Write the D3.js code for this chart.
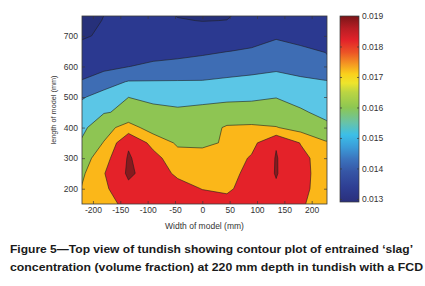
<!DOCTYPE html>
<html>
<head>
<meta charset="utf-8">
<script src="https://cdn.jsdelivr.net/npm/d3@7"></script>
<style>
  body { margin: 0; background: #fff; }
  text { font-family: "Liberation Sans", Arial, sans-serif; }
</style>
</head>
<body>
<svg id="chart" width="425" height="286"></svg>
<script>
// grid positions across the tundish (mm)
const xGrid = [-225, -180, -135, -90, -45, 0, 45, 90, 135, 180, 225];
const yGrid = [150, 200, 250, 300, 350, 400, 450, 500, 550, 600, 650, 700, 750, 800];

// slag volume fraction, one row per yGrid value, one column per xGrid value
const slag = [
  [0.0174, 0.0176, 0.0183, 0.0186, 0.0186, 0.0185, 0.0183, 0.0184, 0.0184, 0.01815, 0.0174],
  [0.01695, 0.0178, 0.0188, 0.0186, 0.0184, 0.01797, 0.01785, 0.0184, 0.0189, 0.0183, 0.0175],
  [0.0167, 0.01795, 0.01915, 0.0186, 0.0178, 0.0176, 0.0176, 0.01835, 0.01905, 0.01835, 0.0175],
  [0.0164, 0.0176, 0.0191, 0.01835, 0.0174, 0.0173, 0.0175, 0.0181, 0.01905, 0.0183, 0.0175],
  [0.01601, 0.01705, 0.01889, 0.0177, 0.01685, 0.01685, 0.01708, 0.0177, 0.01895, 0.01795, 0.0171],
  [0.0157, 0.0166, 0.01745, 0.0165, 0.0165, 0.0166, 0.0171, 0.01715, 0.01705, 0.0166, 0.0163],
  [0.0153, 0.01595, 0.01613, 0.0163, 0.01615, 0.0162, 0.0164, 0.0164, 0.0163, 0.01615, 0.0157],
  [0.01488, 0.0153, 0.015997, 0.01575, 0.0157, 0.0158, 0.0158, 0.01585, 0.01598, 0.0156, 0.01525],
  [0.01402, 0.01465, 0.01505, 0.01505, 0.01505, 0.01505, 0.01515, 0.0152, 0.0153, 0.01515, 0.01505],
  [0.0137, 0.0137, 0.01398, 0.01425, 0.0144, 0.0145, 0.0146, 0.01475, 0.01485, 0.0147, 0.0145],
  [0.0134, 0.0134, 0.0136, 0.0135, 0.0136, 0.0138, 0.01398, 0.0141, 0.0145, 0.0142, 0.01395],
  [0.0128, 0.0132, 0.0134, 0.0134, 0.0134, 0.0134, 0.0135, 0.01365, 0.01385, 0.01365, 0.0136],
  [0.0125, 0.01305, 0.0132, 0.0132, 0.01305, 0.01298, 0.01301, 0.0133, 0.0135, 0.0134, 0.0134],
  [0.0123, 0.0129, 0.0131, 0.0131, 0.0128, 0.0128, 0.0128, 0.0131, 0.0133, 0.0132, 0.0132]
];

// contour levels and the fill of the band above each one
const levels = [0.012, 0.013, 0.014, 0.015, 0.016, 0.017, 0.018, 0.019];
const levelColours = ["#26307a", "#2b3990", "#3e6db4", "#5bc6e6", "#8ec553", "#fbb719", "#e42229", "#861a1e"];

const xTicks = [-200, -150, -100, -50, 0, 50, 100, 150, 200];
const yTicks = [200, 300, 400, 500, 600, 700];
const barTicks = [0.013, 0.014, 0.015, 0.016, 0.017, 0.018, 0.019];

// colour bar gradient (value, colour)
const barStops = [
  [0.019, "#7a1518"], [0.0186, "#b71d24"], [0.0182, "#e3232a"], [0.0178, "#ec5526"],
  [0.0174, "#f59c22"], [0.0171, "#fad01c"], [0.0168, "#eee52c"], [0.0165, "#bbd543"],
  [0.016, "#8dc752"], [0.0155, "#68c3a8"], [0.0151, "#3cbfe8"], [0.0147, "#3b9cd8"],
  [0.0143, "#3b73bd"], [0.0139, "#3656a6"], [0.0134, "#2e3f94"], [0.0129, "#2a2f7c"]
];

const captionLines = [
  "Figure 5\u2014Top view of tundish showing contour plot of entrained \u2018slag\u2019",
  "concentration (volume fraction) at 220 mm depth in tundish with a FCD"
];

const MARGIN = {LEFT: 82, RIGHT: 327, TOP: 16, BOTTOM: 204};
const svg = d3.select("#chart");

//** SCALES *****************************************
const xScale = d3.scaleLinear().domain([-220, 228]).range([MARGIN.LEFT, MARGIN.RIGHT]);
const yScale = d3.scaleLinear().domain([150, 765]).range([MARGIN.BOTTOM, MARGIN.TOP]);

// grid index -> mm (d3.contours puts sample i at i + 0.5)
const nx = xGrid.length, ny = yGrid.length;
const gx = d3.scaleLinear().domain([0.5, nx - 0.5]).range([xGrid[0], xGrid[nx - 1]]);
const gy = d3.scaleLinear().domain([0.5, ny - 0.5]).range([yGrid[0], yGrid[ny - 1]]);

const projection = d3.geoTransform({
  point: function(px, py) { this.stream.point(xScale(gx(px)), yScale(gy(py))); }
});
const path = d3.geoPath(projection);

//** CONTOURS *****************************************
svg.append("clipPath").attr("id", "plotClip")
  .append("rect")
  .attr("x", MARGIN.LEFT).attr("y", MARGIN.TOP)
  .attr("width", MARGIN.RIGHT - MARGIN.LEFT).attr("height", MARGIN.BOTTOM - MARGIN.TOP);

const contours = d3.contours()
  .size([nx, ny])
  .thresholds(levels)(slag.flat());

svg.append("g")
  .attr("clip-path", "url(#plotClip)")
  .selectAll("path")
  .data(contours)
  .enter()
  .append("path")
  .attr("d", path)
  .attr("fill", (d, i) => levelColours[i])
  .attr("stroke", (d, i) => i === 0 ? "none" : "#1e1e1e")
  .attr("stroke-width", 0.7)
  .attr("stroke-opacity", 0.85)
  .attr("stroke-linejoin", "round");

//** AXES *****************************************
svg.append("rect")
  .attr("x", MARGIN.LEFT).attr("y", MARGIN.TOP)
  .attr("width", MARGIN.RIGHT - MARGIN.LEFT).attr("height", MARGIN.BOTTOM - MARGIN.TOP)
  .attr("fill", "none").attr("stroke", "#3a3a3a").attr("stroke-width", 0.8);

const plain = d => String(d);
const xAxis = d3.axisBottom(xScale).tickValues(xTicks).tickFormat(plain).tickSize(-3).tickPadding(3);
const yAxis = d3.axisLeft(yScale).tickValues(yTicks).tickFormat(plain).tickSize(-3).tickPadding(4);

function styleAxis(g, showLabels) {
  g.select(".domain").remove();
  g.selectAll(".tick line").attr("stroke", "#3a3a3a").attr("stroke-width", 0.7);
  g.selectAll(".tick text")
    .attr("fill", "#333")
    .style("font-family", "'Liberation Sans', Arial, sans-serif")
    .style("font-size", "8.5px")
    .style("display", showLabels ? null : "none");
}

svg.append("g").attr("transform", "translate(0," + MARGIN.BOTTOM + ")").call(xAxis).call(g => styleAxis(g, true));
svg.append("g").attr("transform", "translate(" + MARGIN.LEFT + ",0)").call(yAxis).call(g => styleAxis(g, true));
svg.append("g").attr("transform", "translate(0," + MARGIN.TOP + ")")
  .call(d3.axisTop(xScale).tickValues(xTicks).tickSize(-3)).call(g => styleAxis(g, false));
svg.append("g").attr("transform", "translate(" + MARGIN.RIGHT + ",0)")
  .call(d3.axisRight(yScale).tickValues(yTicks).tickSize(-3)).call(g => styleAxis(g, false));

svg.append("text")
  .attr("x", (MARGIN.LEFT + MARGIN.RIGHT) / 2)
  .attr("y", 229)
  .attr("text-anchor", "middle")
  .attr("fill", "#333")
  .style("font-size", "8.5px")
  .text("Width of model (mm)");

svg.append("text")
  .attr("transform", "translate(56," + ((MARGIN.TOP + MARGIN.BOTTOM) / 2) + ") rotate(-90)")
  .attr("text-anchor", "middle")
  .attr("fill", "#333")
  .style("font-size", "7.3px")
  .text("length of model (mm)");

//** COLOUR BAR *****************************************
const barX = 340, barW = 19;
const barScale = d3.scaleLinear().domain([0.0129, 0.019]).range([202, 16]);

const grad = svg.append("defs").append("linearGradient")
  .attr("id", "barGrad")
  .attr("x1", 0).attr("y1", 0).attr("x2", 0).attr("y2", 1);
grad.selectAll("stop")
  .data(barStops)
  .enter()
  .append("stop")
  .attr("offset", d => (barScale(d[0]) - barScale(0.019)) / (barScale(0.0129) - barScale(0.019)))
  .attr("stop-color", d => d[1]);

svg.append("rect")
  .attr("x", barX).attr("y", barScale(0.019))
  .attr("width", barW).attr("height", barScale(0.0129) - barScale(0.019))
  .attr("fill", "url(#barGrad)")
  .attr("stroke", "#3a3a3a").attr("stroke-width", 0.7);

const barAxis = d3.axisRight(barScale).tickValues(barTicks).tickSize(-2).tickPadding(3)
  .tickFormat(d3.format(".3f"));
svg.append("g").attr("transform", "translate(" + (barX + barW) + ",0)")
  .call(barAxis).call(g => styleAxis(g, true));
svg.append("g").attr("transform", "translate(" + barX + ",0)")
  .call(d3.axisLeft(barScale).tickValues(barTicks).tickSize(-2)).call(g => styleAxis(g, false));

//** CAPTION *****************************************
const captionY = [253, 271];
const captionW = [403, 413];
svg.selectAll(".caption")
  .data(captionLines)
  .enter()
  .append("text")
  .attr("class", "caption")
  .attr("x", 10)
  .attr("y", (d, i) => captionY[i])
  .attr("textLength", (d, i) => captionW[i])
  .attr("lengthAdjust", "spacingAndGlyphs")
  .attr("fill", "#1a1a1a")
  .style("font-size", "11.5px")
  .style("font-weight", "bold")
  .text(d => d);
</script>
</body>
</html>
